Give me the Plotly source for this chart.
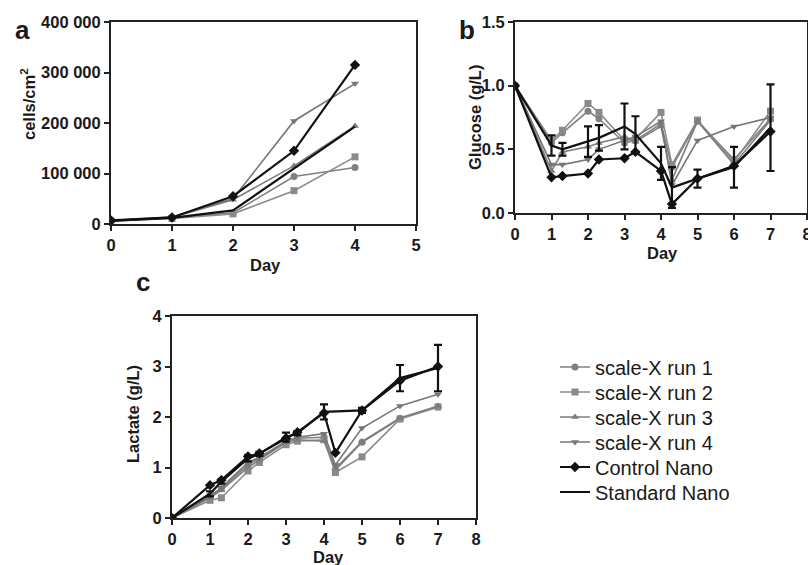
import plotly.graph_objects as go

# ---------------- data ----------------
days_a = [0, 1, 2, 3, 4]
cells_run1 = [7000, 12000, 22000, 94000, 112000]
cells_run2 = [6000, 11000, 20000, 66000, 133000]
cells_run3 = [6000, 13000, 48000, 115000, 194000]
cells_run4 = [7000, 14000, 50000, 204000, 278000]
cells_control = [7000, 13000, 55000, 145000, 315000]
cells_standard = [6000, 12000, 27000, 110000, 193000]

days_bc = [0, 1, 1.3, 2, 2.3, 3, 3.3, 4, 4.3, 5, 6, 7]
glu_run1 = [1.0, 0.55, 0.63, 0.80, 0.74, 0.55, 0.57, 0.70, 0.36, 0.72, 0.42, 0.74]
glu_run2 = [1.0, 0.57, 0.65, 0.86, 0.79, 0.57, 0.58, 0.79, 0.38, 0.73, 0.40, 0.80]
glu_run3 = [1.0, 0.33, 0.48, 0.52, 0.55, 0.60, 0.56, 0.68, 0.26, 0.72, 0.38, 0.73]
glu_run4 = [1.0, 0.38, 0.38, 0.42, 0.50, 0.57, 0.60, 0.72, 0.22, 0.57, 0.68, 0.75]
glu_control = [1.0, 0.28, 0.29, 0.31, 0.42, 0.43, 0.48, 0.33, 0.07, 0.27, 0.37, 0.64]
glu_standard = [1.0, 0.53, 0.50, 0.56, 0.59, 0.68, 0.62, 0.39, 0.20, 0.27, 0.36, 0.67]
glu_standard_err = [0, 0.08, 0.05, 0.12, 0.10, 0.18, 0.14, 0.13, 0.16, 0.07, 0.16, 0.34]

lac_run1 = [0, 0.45, 0.58, 1.05, 1.18, 1.50, 1.58, 1.60, 0.95, 1.50, 1.97, 2.20]
lac_run2 = [0, 0.35, 0.40, 0.93, 1.10, 1.45, 1.52, 1.55, 0.90, 1.21, 1.96, 2.20]
lac_run3 = [0, 0.40, 0.55, 1.00, 1.15, 1.50, 1.55, 1.52, 0.98, 1.51, 1.98, 2.22]
lac_run4 = [0, 0.42, 0.60, 1.10, 1.20, 1.52, 1.60, 1.67, 1.05, 1.78, 2.22, 2.45]
lac_control = [0, 0.65, 0.75, 1.22, 1.28, 1.58, 1.70, 2.08, 1.29, 2.13, 2.72, 3.00]
days_c_standard = [0, 1, 1.3, 2, 2.3, 3, 3.3, 4, 5, 6, 7]
lac_standard = [0, 0.48, 0.72, 1.18, 1.27, 1.60, 1.68, 2.10, 2.13, 2.77, 2.97]
lac_standard_err = [0, 0.05, 0.04, 0.06, 0.04, 0.09, 0.04, 0.15, 0.05, 0.26, 0.46]

series_names = ["scale-X run 1", "scale-X run 2", "scale-X run 3", "scale-X run 4",
                "Control Nano", "Standard Nano"]

a_y_ticks = [0, 100000, 200000, 300000, 400000]
a_y_labels = ["0", "100 000", "200 000", "300 000", "400 000"]

# ---------------- styles ----------------
FONT = "Liberation Sans, Arial, sans-serif"
styles = {
    "scale-X run 1": dict(color="#808080", symbol="circle", size=7, width=1.6),
    "scale-X run 2": dict(color="#8a8a8a", symbol="square", size=7, width=1.6),
    "scale-X run 3": dict(color="#7d7d7d", symbol="triangle-up", size=7, width=1.6),
    "scale-X run 4": dict(color="#767676", symbol="triangle-down", size=7, width=1.6),
    "Control Nano": dict(color="#111111", symbol="diamond", size=8, width=2.2),
}
legend_ids = {nm: ("legend" if i == 0 else f"legend{i+1}") for i, nm in enumerate(series_names)}

fig = go.Figure()

def add_series(x, y, name, xa, ya, legend, err=None):
    if name == "Standard Nano":
        tr = go.Scatter(x=x, y=y, name=name, mode="lines",
                        line=dict(color="#111111", width=2.2),
                        xaxis=xa, yaxis=ya, showlegend=legend, legendgroup=name)
        if err is not None:
            tr.error_y = dict(type="data", array=err, visible=True,
                              color="#111111", thickness=2.2, width=4)
    else:
        s = styles[name]
        tr = go.Scatter(x=x, y=y, name=name, mode="lines+markers",
                        line=dict(color=s["color"], width=s["width"]),
                        marker=dict(color=s["color"], symbol=s["symbol"], size=s["size"]),
                        xaxis=xa, yaxis=ya, showlegend=legend, legendgroup=name)
    if legend:
        tr.legend = legend_ids[name]
    fig.add_trace(tr)

# panel a
for nm, vals in zip(series_names, [cells_run1, cells_run2, cells_run3, cells_run4,
                                   cells_control, cells_standard]):
    add_series(days_a, vals, nm, "x", "y", False)
# panel b
for nm, vals in zip(series_names[:5], [glu_run1, glu_run2, glu_run3, glu_run4, glu_control]):
    add_series(days_bc, vals, nm, "x2", "y2", False)
add_series(days_bc, glu_standard, "Standard Nano", "x2", "y2", False, glu_standard_err)
# panel c
for nm, vals in zip(series_names[:5], [lac_run1, lac_run2, lac_run3, lac_run4, lac_control]):
    add_series(days_bc, vals, nm, "x3", "y3", True)
add_series(days_c_standard, lac_standard, "Standard Nano", "x3", "y3", True, lac_standard_err)

W, H = 808, 565
def fx(px): return px / W
def fy(py): return 1 - py / H

axis_common = dict(showline=True, linecolor="#222222", linewidth=2, mirror=True,
                   ticks="outside", ticklen=5, tickwidth=2, tickcolor="#222222",
                   showgrid=False, zeroline=False, automargin=False,
                   ticklabeloverflow="allow",
                   tickfont=dict(family=FONT, size=16.5, color="#1a1a1a", weight="bold"))

layout = dict(
    width=W, height=H, margin=dict(l=0, r=0, t=0, b=0, autoexpand=False),
    paper_bgcolor="white", plot_bgcolor="white",
    font=dict(family=FONT, color="#1a1a1a"),
    xaxis=dict(domain=[fx(111), fx(416)], range=[0, 5], tickvals=[0, 1, 2, 3, 4, 5],
               anchor="y", **axis_common),
    yaxis=dict(domain=[fy(224), fy(22)], range=[0, 400000], tickvals=a_y_ticks,
               ticktext=a_y_labels, anchor="x", **axis_common),
    xaxis2=dict(domain=[fx(515), fx(807)], range=[0, 8], tickvals=list(range(9)),
                anchor="y2", **axis_common),
    yaxis2=dict(domain=[fy(213), fy(22)], range=[0, 1.5], tickvals=[0, 0.5, 1.0, 1.5],
                ticktext=["0.0", "0.5", "1.0", "1.5"], anchor="x2", **axis_common),
    xaxis3=dict(domain=[fx(172), fx(476)], range=[0, 8], tickvals=list(range(9)),
                anchor="y3", **axis_common),
    yaxis3=dict(domain=[fy(518), fy(316)], range=[0, 4], tickvals=[0, 1, 2, 3, 4],
                anchor="x3", **axis_common),
)
legend_rows = [367, 392, 417, 442, 467, 492]
for nm, row in zip(series_names, legend_rows):
    layout[legend_ids[nm]] = dict(x=fx(555), y=fy(row), xanchor="left", yanchor="middle",
                                  font=dict(family=FONT, size=20, color="#1a1a1a"),
                                  bgcolor="rgba(0,0,0,0)", itemwidth=30)
fig.update_layout(**layout)

def ann(text, x, y, size, angle=0, bold=True):
    fig.add_annotation(text=text, x=fx(x), y=fy(y), xref="paper", yref="paper",
                       showarrow=False, textangle=angle, xanchor="center", yanchor="middle",
                       font=dict(family=FONT, size=size, color="#1a1a1a",
                                 weight="bold" if bold else "normal"))

# panel letters
ann("a", 22, 30, 26)
ann("b", 467, 30, 26)
ann("c", 143, 282, 26)
# axis titles
ann("cells/cm<sup>2</sup>", 28, 104, 16.5, angle=-90)
ann("Day", 265, 265, 16.5)
ann("Glucose (g/L)", 475, 118, 16.5, angle=-90)
ann("Day", 662, 253, 16.5)
ann("Lactate (g/L)", 133, 414, 16.5, angle=-90)
ann("Day", 328, 557, 16.5)

fig.write_html("out.html", config={"displayModeBar": False},
               post_script="document.body.style.margin='0';document.body.style.padding='0';"
                           "document.documentElement.style.overflow='hidden';")
